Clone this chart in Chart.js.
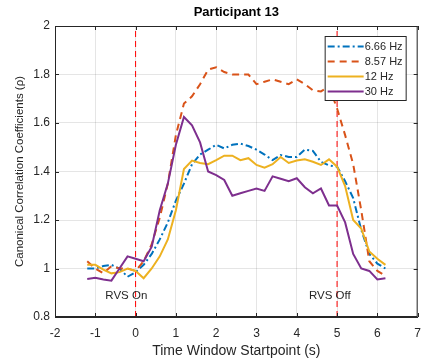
<!DOCTYPE html>
<html lang="en">
<head>
<meta charset="UTF-8">
<title>Participant 13</title>
<script src="https://cdn.jsdelivr.net/npm/chart.js@4"></script>
<style>
  body { margin: 0; background: #fff; }
</style>
</head>
<body>
<canvas id="cca" width="430" height="360"></canvas>
<script>
// time window startpoints (s)
const times = [-1.2, -1.0, -0.8, -0.6, -0.4, -0.2, 0, 0.2, 0.4, 0.6, 0.8, 1.0, 1.2, 1.4, 1.6, 1.8,
  2.0, 2.2, 2.4, 2.6, 2.8, 3.0, 3.2, 3.4, 3.6, 3.8, 4.0, 4.2, 4.4, 4.6, 4.8, 5.0, 5.2, 5.4, 5.6, 5.8, 6.0, 6.2];

const labels = ['6.66 Hz', '8.57 Hz', '12 Hz', '30 Hz'];

const hz666 = [1.00, 1.00, 1.01, 1.015, 1.00, 0.966, 0.985, 1.015, 1.06, 1.12, 1.19, 1.28, 1.35, 1.43, 1.47, 1.49,
  1.51, 1.495, 1.51, 1.515, 1.505, 1.49, 1.47, 1.447, 1.468, 1.46, 1.46, 1.49, 1.485, 1.44, 1.425, 1.42, 1.36, 1.29, 1.16, 1.06, 1.02, 1.00];
const hz857 = [1.03, 1.00, 0.98, 1.01, 1.00, 1.00, 0.99, 1.03, 1.10, 1.21, 1.35, 1.55, 1.68, 1.71, 1.76, 1.82,
  1.83, 1.81, 1.80, 1.80, 1.80, 1.76, 1.77, 1.78, 1.77, 1.76, 1.78, 1.76, 1.735, 1.73, 1.75, 1.66, 1.55, 1.43, 1.24, 1.03, 0.99, 0.97];
const hz12 = [1.015, 1.015, 0.995, 0.98, 0.985, 1.00, 0.99, 0.96, 1.00, 1.05, 1.12, 1.24, 1.41, 1.445, 1.435, 1.43,
  1.447, 1.465, 1.465, 1.447, 1.455, 1.427, 1.416, 1.43, 1.46, 1.435, 1.445, 1.45, 1.44, 1.427, 1.45, 1.42, 1.34, 1.20, 1.165, 1.07, 1.04, 1.015];
const hz30 = [0.957, 0.962, 0.955, 0.95, 1.00, 1.05, 1.04, 1.03, 1.09, 1.24, 1.35, 1.51, 1.625, 1.59, 1.52, 1.40,
  1.385, 1.365, 1.30, 1.31, 1.32, 1.33, 1.32, 1.38, 1.37, 1.36, 1.372, 1.335, 1.31, 1.33, 1.26, 1.26, 1.19, 1.06, 1.00, 0.99, 0.955, 0.96];

const xTicks = [-2, -1, 0, 1, 2, 3, 4, 5, 6, 7];
const yTicks = [0.8, 1, 1.2, 1.4, 1.6, 1.8, 2];
const yTickText = ['0.8', '1', '1.2', '1.4', '1.6', '1.8', '2'];
const markers = [0, 5];            // RVS on / off
const markerText = ['RVS On', 'RVS Off'];
const markerTextAt = [[-0.23, 0.887], [4.82, 0.887]];

const colors = ['#0072BD', '#D95319', '#EDB120', '#7E2F8E'];
const dashes = [[7, 3, 2, 3], [7, 5], [], []];
const series = [hz666, hz857, hz12, hz30];

const pts = arr => arr.map((v, i) => ({ x: times[i], y: v }));

const datasets = series.map((s, i) => ({
  label: labels[i],
  data: pts(s),
  borderColor: colors[i],
  borderDash: dashes[i],
  borderWidth: 2,
  pointRadius: 0,
  tension: 0,
  fill: false,
  order: 4 - i
}));
markers.forEach(m => datasets.push({
  label: '',
  data: [{ x: m, y: yTicks[0] }, { x: m, y: yTicks[yTicks.length - 1] }],
  borderColor: '#FF0000',
  borderDash: [6, 4],
  borderWidth: 1,
  pointRadius: 0,
  order: 10
}));

const FONT = 'Liberation Sans, Arial, sans-serif';
const INK = '#262626';

const matlabBits = {
  id: 'matlabBits',
  afterDatasetsDraw(chart) {
    const { ctx, chartArea: a, scales: { x, y } } = chart;
    ctx.save();
    // box
    ctx.strokeStyle = INK;
    ctx.lineWidth = 1;
    ctx.strokeRect(a.left + 0.5, a.top + 0.5, a.width - 1, a.height - 1);
    // inward ticks
    ctx.beginPath();
    xTicks.forEach(t => {
      const px = Math.round(x.getPixelForValue(t)) + 0.5;
      ctx.moveTo(px, a.bottom); ctx.lineTo(px, a.bottom - 4);
      ctx.moveTo(px, a.top); ctx.lineTo(px, a.top + 4);
    });
    yTicks.forEach(t => {
      const py = Math.round(y.getPixelForValue(t)) + 0.5;
      ctx.moveTo(a.left, py); ctx.lineTo(a.left + 4, py);
      ctx.moveTo(a.right, py); ctx.lineTo(a.right - 4, py);
    });
    ctx.stroke();

    // RVS labels
    ctx.fillStyle = INK;
    ctx.font = '11.5px ' + FONT;
    ctx.textAlign = 'center';
    ctx.textBaseline = 'middle';
    markerTextAt.forEach(([tx, ty], i) => {
      ctx.fillText(markerText[i], x.getPixelForValue(tx), y.getPixelForValue(ty));
    });

    // title
    ctx.font = 'bold 13px ' + FONT;
    ctx.fillStyle = '#000';
    ctx.fillText('Participant 13', (a.left + a.right) / 2, 12);

    // legend
    const lx = a.right - 93, ly = a.top + 10, lw = 81, lh = 64;
    ctx.fillStyle = '#fff';
    ctx.fillRect(lx, ly, lw, lh);
    ctx.strokeStyle = INK;
    ctx.strokeRect(lx + 0.5, ly + 0.5, lw, lh);
    ctx.font = '11px ' + FONT;
    ctx.textAlign = 'left';
    labels.forEach((lab, i) => {
      const yy = ly + 10.5 + i * 15;
      ctx.strokeStyle = colors[i];
      ctx.lineWidth = 2;
      ctx.setLineDash(dashes[i]);
      ctx.beginPath();
      ctx.moveTo(lx + 3, yy); ctx.lineTo(lx + 39, yy);
      ctx.stroke();
      ctx.setLineDash([]);
      ctx.fillStyle = INK;
      ctx.fillText(lab, lx + 40, yy + 0.5);
    });
    ctx.restore();
  }
};

new Chart(document.getElementById('cca'), {
  type: 'line',
  data: { datasets },
  options: {
    responsive: false,
    animation: false,
    layout: { padding: { top: 26, right: 3, left: 0, bottom: 0 } },
    plugins: { legend: { display: false }, tooltip: { enabled: false } },
    scales: {
      x: {
        type: 'linear',
        min: -2, max: 7,
        afterBuildTicks: s => { s.ticks = xTicks.map(v => ({ value: v })); },
        afterFit: s => { s.height = 43; },
        grid: { color: 'rgba(0,0,0,0.1)', drawTicks: false },
        border: { color: INK },
        ticks: { padding: 9, color: INK, font: { family: FONT, size: 12 } },
        title: {
          display: true, text: 'Time Window Startpoint (s)', color: INK,
          font: { family: FONT, size: 14 }, padding: { top: 0, bottom: 0 }
        }
      },
      y: {
        min: 0.8, max: 2,
        afterBuildTicks: s => { s.ticks = yTicks.map(v => ({ value: v })); },
        afterFit: s => { s.width = 55; },
        grid: { color: 'rgba(0,0,0,0.1)', drawTicks: false },
        border: { color: INK },
        ticks: {
          padding: 5, color: INK, font: { family: FONT, size: 12 },
          callback: v => yTickText[yTicks.indexOf(v)] ?? String(v)
        },
        title: {
          display: true, text: 'Canonical Correlation Coefficients (\u03C1)', color: INK,
          font: { family: FONT, size: 11.5 }, padding: { top: 13, bottom: 0 }
        }
      }
    }
  },
  plugins: [matlabBits]
});
</script>
</body>
</html>
